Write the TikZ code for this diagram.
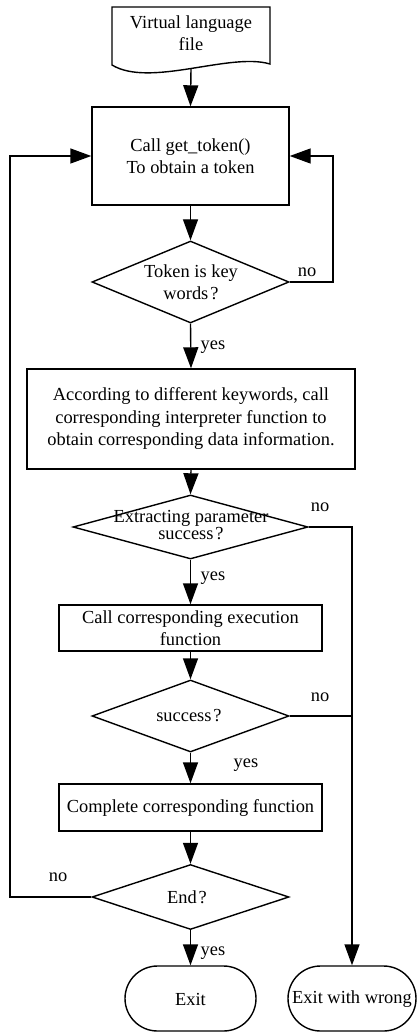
\documentclass[tikz,border=0pt]{standalone}
\usepackage{fontspec}
\setmainfont{Liberation Serif}
\usetikzlibrary{shapes.geometric,shapes.misc,arrows.meta}

\begin{document}
\begin{tikzpicture}[x=1pt, y=-1pt, line width=1.4pt,
  every node/.style={font=\fontsize{18.4}{22.5}\selectfont, inner sep=0pt},
  txt/.style={align=center},
  proc/.style={draw, rectangle, align=center},
  decision/.style={draw, diamond, minimum width=#1},
  term/.style={draw, rounded rectangle, minimum height=65pt, minimum width=#1},
  flow/.style={-{Triangle[length=21pt,width=15pt]}},
  lbl/.style={font=\fontsize{18.4}{22.5}\selectfont}
]
\useasboundingbox (0,0) rectangle (417,1032);

% input document
\node[txt] (doc) at (191,33) {Virtual language\\file};
\draw (112,65) -- (112,7) -- (270,7) -- (270,64)
      .. controls (230,52) and (150,88) .. (112,65) -- cycle;
\coordinate (docb) at (191,68.6);

% main column
\node[proc, minimum width=197pt, minimum height=98pt] (box1) at (190.5,156)
  {Call get\_token()\\To obtain a token};
\node[decision=197pt, minimum height=82pt] (d1) at (190.5,282) {};
\node[txt] (t1) at (191,282) {Token is key\\words\kern2pt?};
\node[proc, minimum width=328pt, minimum height=100pt] (box2) at (191,419)
  {According to different keywords, call\\corresponding interpreter function to\\obtain corresponding data information.};
\node[decision=235pt, minimum height=64pt] (d2) at (190.5,527) {};
\node[txt, font=\fontsize{18.4}{16}\selectfont] (t2) at (191,525)
  {Extracting parameter\\success\kern2pt?};
\node[proc, minimum width=263pt, minimum height=46pt] (box3) at (190.5,628)
  {Call corresponding execution\\function};
\node[decision=197pt, minimum height=72pt] (d3) at (190.5,716) {};
\node[txt] (t3) at (189,716) {success\kern2pt?};
\node[proc, minimum width=263pt, minimum height=47pt] (box4) at (190.5,807.5)
  {Complete corresponding function};
\node[decision=197pt, minimum height=65pt] (d4) at (190.5,897) {};
\node[txt] (t4) at (187,897) {End\kern2pt?};
\node[term=131pt] (exit) at (190.5,998.5) {};
\node[txt] (texit) at (190.5,999) {Exit};
\node[term=128pt] (exitw) at (352,998.5) {};
\node[txt] (texitw) at (352,999) {Exit with wrong};

% rails for the loops
\coordinate (rrail) at (333,282);
\coordinate (lrail) at (10,897);

% connectors
\draw[flow] (docb) -- (box1.north);
\draw[flow] (box1.south) -- (d1.north);
\draw[flow] (d1.south) -- (box2.north);
\draw[flow] (d1.east) -- (rrail) |- (box1.east);
\draw[flow] (box2.south) -- (d2.north);
\draw[flow] (d2.south) -- (box3.north);
\draw[flow] (d2.east) -| (exitw.north);
\draw (d3.east) -- (d3.east -| exitw.north);
\draw[flow] (box3.south) -- (d3.north);
\draw[flow] (d3.south) -- (box4.north);
\draw[flow] (box4.south) -- (d4.north);
\draw[flow] (d4.south) -- (exit.north);
\draw[flow] (d4.west) -- (lrail) |- (box1.west);

% branch labels
\node[lbl] (no1) at (307,272) {no};
\node[lbl, anchor=west] (yes1) at (200,347) {yes};
\node[lbl] (no2) at (320,507) {no};
\node[lbl, anchor=west] (yes2) at (200,578) {yes};
\node[lbl] (no3) at (320,697) {no};
\node[lbl, anchor=west] (yes3) at (233,765) {yes};
\node[lbl] (no4) at (58,877) {no};
\node[lbl, anchor=west] (yes4) at (200,953) {yes};
\end{tikzpicture}
\end{document}
